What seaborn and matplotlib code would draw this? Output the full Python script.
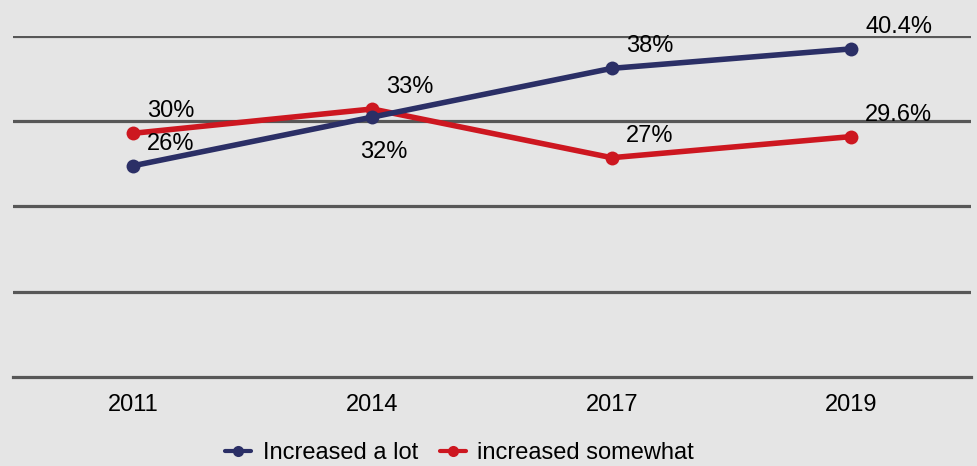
import matplotlib
matplotlib.use("Agg")
import matplotlib.pyplot as plt
import seaborn as sns
import pandas as pd

years = ["2011", "2014", "2017", "2019"]
increased_a_lot = [26, 32, 38, 40.4]
increased_somewhat = [30, 33, 27, 29.6]
series_names = ["Increased a lot", "increased somewhat"]

BG = "#e5e5e5"
NAVY = "#2b2f66"
RED = "#cd1720"
GRID = "#575757"
FS = 17

sns.set_theme(style="white")
plt.rcParams["font.family"] = ["Liberation Sans", "DejaVu Sans"]

df = pd.DataFrame({
    "year": years * 2,
    "value": increased_a_lot + increased_somewhat,
    "series": [series_names[0]] * len(years) + [series_names[1]] * len(years),
})

fig = plt.figure(figsize=(9.78, 4.66), dpi=100, facecolor=BG)
ax = fig.add_axes([0.0133, 0.191, 0.9795, 0.732])
ax.set_facecolor(BG)

sns.lineplot(
    data=df, x="year", y="value", hue="series",
    hue_order=series_names, palette=[NAVY, RED],
    marker="o", markersize=10, markeredgewidth=0,
    linewidth=4, ax=ax, legend=True, sort=False,
)

# navy line sits over the red one where they cross
for line in ax.get_lines():
    if line.get_color() == NAVY:
        line.set_zorder(4)
    else:
        line.set_zorder(3)

ax.set_xlim(-0.5, len(years) - 0.5)
ax.set_ylim(0, 42)
ax.set_yticks([10.5, 21, 31.5, 42])
ax.yaxis.grid(True, color=GRID, linewidth=2.3)
ax.set_yticklabels([])
ax.tick_params(axis="y", length=0)
ax.tick_params(axis="x", length=0, pad=12, labelsize=FS, colors="black")
ax.set_xlabel("")
ax.set_ylabel("")
for side in ["top", "right", "left"]:
    ax.spines[side].set_visible(False)
ax.spines["bottom"].set_color(GRID)
ax.spines["bottom"].set_linewidth(2.3)

# value labels: above-right of each point, except 2014 navy below
def fmt(v):
    return f"{v:g}%"

for i, v in enumerate(increased_a_lot):
    if i == 1:
        ax.annotate(fmt(v), (i, v), xytext=(-8.6, -29.5), textcoords="offset points",
                    ha="left", va="baseline", fontsize=FS, color="black", zorder=6)
    else:
        ax.annotate(fmt(v), (i, v), xytext=(10, 11.5), textcoords="offset points",
                    ha="left", va="baseline", fontsize=FS, color="black", zorder=6)
for i, v in enumerate(increased_somewhat):
    ax.annotate(fmt(v), (i, v), xytext=(10, 11.5), textcoords="offset points",
                ha="left", va="baseline", fontsize=FS, color="black", zorder=6)

handles, labels = ax.get_legend_handles_labels()
ax.legend_.remove()
for h in handles:
    h.set_linewidth(3)
    h.set_markersize(8)
leg = fig.legend(handles, labels, loc="center", bbox_to_anchor=(0.470, 0.028),
                 ncol=2, frameon=False, fontsize=FS, handlelength=1.1,
                 handletextpad=0.5, columnspacing=0.9)
for t in leg.get_texts():
    t.set_color("black")

fig.savefig("out.png", dpi=100, facecolor=BG)
